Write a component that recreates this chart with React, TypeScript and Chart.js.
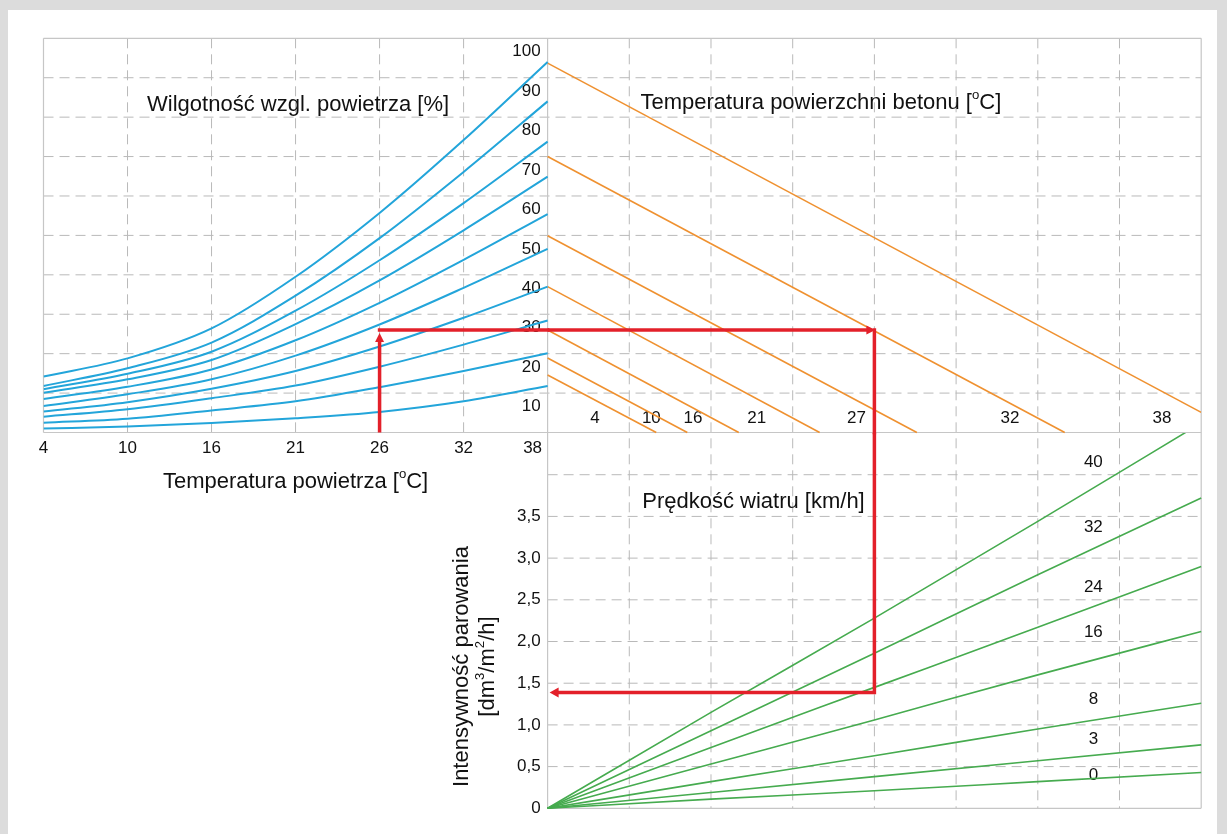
import React, { useEffect, useRef } from 'react';
import { Chart, registerables } from 'chart.js';

Chart.register(...registerables);

// ---------------- DATA ----------------
// Left panel: air temperature (x, equally spaced grid columns) vs. relative humidity curves
const airTempTicks = ['4', '10', '16', '21', '26', '32', '38'];
const humidityTicks = [100, 90, 80, 70, 60, 50, 40, 30, 20, 10];
// curve values read at each air-temperature column (vertical nomogram units, 0..100)
const rh100 = [14.2, 18.8, 26.4, 39.5, 55.7, 74.2, 94.0];
const rh90 = [11.8, 16.3, 22.8, 34.7, 49.3, 66.1, 84.0];
const rh80 = [11.0, 14.9, 20.5, 30.9, 43.7, 58.2, 73.8];
const rh70 = [10.1, 13.5, 18.4, 27.5, 38.6, 51.3, 64.9];
const rh60 = [8.5, 11.6, 16.0, 23.4, 32.9, 43.8, 55.4];
const rh50 = [6.7, 9.7, 13.5, 19.5, 27.4, 36.7, 46.6];
const rh40 = [5.3, 7.7, 11.1, 15.6, 21.8, 29.1, 37.0];
const rh30 = [4.0, 5.9, 8.7, 11.9, 16.7, 22.3, 28.4];
const rh20 = [2.5, 3.5, 5.6, 7.9, 11.5, 15.6, 20.1];
const rh10 = [1.0, 1.5, 2.4, 3.6, 5.2, 7.9, 11.8];
const humiditySeries = [rh100, rh90, rh80, rh70, rh60, rh50, rh40, rh30, rh20, rh10];

// Right-top panel: concrete surface temperature lines (start on divider, end on axis / right edge)
const concreteTempLabels = ['4', '10', '16', '21', '27', '32', '38'];
const concreteStartY = [14.6, 18.9, 26.0, 37.0, 49.9, 70.0, 93.7];
const concreteEndX = [1.33, 1.71, 2.34, 3.33, 4.52, 6.33, 8.0];
const concreteEndY = [0, 0, 0, 0, 0, 0, 5.1];

// Right-bottom panel: wind speed fan (evaporation rate vs column)
const windLabels = ['40', '32', '24', '16', '8', '3', '0'];
const windX = [0, 2, 4, 6, 8];
const wind40 = [0, 1.15, 2.28, 3.44, 4.62];
const wind32 = [0, 0.93, 1.86, 2.80, 3.72];
const wind24 = [0, 0.73, 1.45, 2.17, 2.90];
const wind16 = [0, 0.53, 1.06, 1.60, 2.12];
const wind8 = [0, 0.32, 0.63, 0.95, 1.26];
const wind3 = [0, 0.19, 0.38, 0.57, 0.76];
const wind0 = [0, 0.11, 0.21, 0.32, 0.43];
const windSeries = [wind40, wind32, wind24, wind16, wind8, wind3, wind0];

const evapTickValues = [0, 0.5, 1.0, 1.5, 2.0, 2.5, 3.0, 3.5];
const evapTickLabels = ['0', '0,5', '1,0', '1,5', '2,0', '2,5', '3,0', '3,5'];
const evapGrid = [0.5, 1.0, 1.5, 2.0, 2.5, 3.0, 3.5, 4.0];

// Example reading path (red arrows)
const exampleAirCol = 4; // 26 °C
const exampleLevel = 26; // humidity-curve level
const exampleConcreteCol = 4; // 27 °C line
const exampleEvap = 1.39; // dm3/m2/h

// ---------------- LAYOUT / STYLE ----------------
const W = 1227;
const H = 834;
const FONT = '"Liberation Sans", Arial, Helvetica, sans-serif';
const TEXT = '#111111';
const GRID = '#b9b9b9';
const FRAME = '#c6c6c6';
const BLUE = '#23a5da';
const ORANGE = '#ef9130';
const GREEN = '#46ab4f';
const RED = '#e3202a';

const concreteLabelX = [0.58, 1.27, 1.78, 2.56, 3.78, 5.66, 7.52];
const windLabelY = [4.15, 3.37, 2.65, 2.11, 1.31, 0.83, 0.40];

type Part = { t: string; sup?: boolean };

function richText(ctx: CanvasRenderingContext2D, parts: Part[], x: number, y: number, size: number, align: 'left' | 'center' | 'right') {
  const widths = parts.map((p) => {
    ctx.font = `${p.sup ? size * 0.6 : size}px ${FONT}`;
    return ctx.measureText(p.t).width;
  });
  const total = widths.reduce((a, b) => a + b, 0);
  let cx = align === 'center' ? x - total / 2 : align === 'right' ? x - total : x;
  ctx.textAlign = 'left';
  ctx.textBaseline = 'middle';
  parts.forEach((p, i) => {
    ctx.font = `${p.sup ? size * 0.6 : size}px ${FONT}`;
    ctx.fillText(p.t, cx, p.sup ? y - size * 0.33 : y);
    cx += widths[i];
  });
}

function seg(ctx: CanvasRenderingContext2D, x1: number, y1: number, x2: number, y2: number) {
  ctx.beginPath();
  ctx.moveTo(x1, y1);
  ctx.lineTo(x2, y2);
  ctx.stroke();
}

function arrowHead(ctx: CanvasRenderingContext2D, tx: number, ty: number, dir: 'up' | 'left' | 'right', len: number, half: number) {
  ctx.beginPath();
  if (dir === 'up') {
    ctx.moveTo(tx, ty);
    ctx.lineTo(tx - half, ty + len);
    ctx.lineTo(tx + half, ty + len);
  } else if (dir === 'right') {
    ctx.moveTo(tx, ty);
    ctx.lineTo(tx - len, ty - half);
    ctx.lineTo(tx - len, ty + half);
  } else {
    ctx.moveTo(tx, ty);
    ctx.lineTo(tx + len, ty - half);
    ctx.lineTo(tx + len, ty + half);
  }
  ctx.closePath();
  ctx.fill();
}

const nomogramPlugin = {
  id: 'nomogram',
  beforeDatasetsDraw(chart: any) {
    const ctx: CanvasRenderingContext2D = chart.ctx;
    const s = chart.scales;
    const XL = (v: number) => s.xl.getPixelForValue(v);
    const XR = (v: number) => s.xr.getPixelForValue(v);
    const YT = (v: number) => s.yt.getPixelForValue(v);
    const YB = (v: number) => s.yb.getPixelForValue(v);
    ctx.save();

    // dashed grid
    ctx.strokeStyle = GRID;
    ctx.lineWidth = 1;
    ctx.setLineDash([10, 6]);
    humidityTicks.slice(1).forEach((v) => seg(ctx, XL(0), YT(v), XR(8), YT(v)));
    for (let i = 1; i < airTempTicks.length - 1; i++) seg(ctx, XL(i), YT(100), XL(i), YT(0));
    for (let i = 1; i < 8; i++) seg(ctx, XR(i), YT(100), XR(i), YB(0));
    evapGrid.forEach((v) => seg(ctx, XR(0), YB(v), XR(8), YB(v)));

    // solid frame
    ctx.setLineDash([]);
    ctx.strokeStyle = FRAME;
    ctx.lineWidth = 1.2;
    seg(ctx, XL(0), YT(100), XR(8), YT(100));
    seg(ctx, XL(0), YT(100), XL(0), YT(0));
    seg(ctx, XR(8), YT(100), XR(8), YB(0));
    seg(ctx, XR(0), YT(100), XR(0), YB(0));
    seg(ctx, XL(0), YT(0), XR(8), YT(0));
    seg(ctx, XR(0), YB(0), XR(8), YB(0));

    ctx.fillStyle = TEXT;
    const D = XR(0);
    // humidity tick labels
    ctx.font = `17px ${FONT}`;
    ctx.textAlign = 'right';
    ctx.textBaseline = 'middle';
    humidityTicks.forEach((v) => ctx.fillText(String(v), D - 7, YT(v) + 13.5));
    // evaporation tick labels
    evapTickValues.forEach((v, i) => ctx.fillText(evapTickLabels[i], D - 7, YB(v)));
    // air temperature ticks
    ctx.textAlign = 'center';
    airTempTicks.forEach((t, i) => {
      const x = i === airTempTicks.length - 1 ? XL(i) - 15 : XL(i);
      ctx.fillText(t, x, YT(0) + 16);
    });
    // concrete temperature labels
    concreteTempLabels.forEach((t, i) => ctx.fillText(t, XR(concreteLabelX[i]), YT(3.6)));
    // wind labels
    windLabels.forEach((t, i) => ctx.fillText(t, XR(6.68), YB(windLabelY[i])));

    // titles
    richText(ctx, [{ t: 'Wilgotność wzgl. powietrza [%]' }], XL(3.03), YT(83.1), 22, 'center');
    richText(ctx, [{ t: 'Temperatura powierzchni betonu [' }, { t: 'o', sup: true }, { t: 'C]' }], XR(3.345), YT(83.6), 22, 'center');
    richText(ctx, [{ t: 'Temperatura powietrza [' }, { t: 'o', sup: true }, { t: 'C]' }], XL(3.0), YT(0) + 49, 22, 'center');
    richText(ctx, [{ t: 'Prędkość wiatru [km/h]' }], XR(2.52), YB(3.676), 22, 'center');

    // rotated y title
    ctx.save();
    ctx.translate(D - 86, YB(1.7));
    ctx.rotate(-Math.PI / 2);
    richText(ctx, [{ t: 'Intensywność parowania' }], 0, 0, 22, 'center');
    ctx.restore();
    ctx.save();
    ctx.translate(D - 60, YB(1.7));
    ctx.rotate(-Math.PI / 2);
    richText(ctx, [{ t: '[dm' }, { t: '3', sup: true }, { t: '/m' }, { t: '2', sup: true }, { t: '/h]' }], 0, 0, 22, 'center');
    ctx.restore();

    ctx.restore();
  },
  afterDatasetsDraw(chart: any) {
    const ctx: CanvasRenderingContext2D = chart.ctx;
    const s = chart.scales;
    ctx.save();
    ctx.fillStyle = RED;
    arrowHead(ctx, s.xl.getPixelForValue(exampleAirCol), s.yt.getPixelForValue(exampleLevel) + 3, 'up', 9, 4.5);
    arrowHead(ctx, s.xr.getPixelForValue(exampleConcreteCol) + 1, s.yt.getPixelForValue(exampleLevel), 'right', 9, 4.5);
    arrowHead(ctx, s.xr.getPixelForValue(0) + 2, s.yb.getPixelForValue(exampleEvap), 'left', 9, 5);
    ctx.restore();
  },
};

export default function App() {
  const ref = useRef<HTMLCanvasElement | null>(null);

  useEffect(() => {
    if (!ref.current) return;
    const datasets: any[] = [];
    const base = { showLine: true, pointRadius: 0, fill: false };

    // red example path (drawn on top)
    datasets.push({
      ...base, order: 0, xAxisID: 'xl', yAxisID: 'yt', borderColor: RED, borderWidth: 3.5,
      data: [{ x: exampleAirCol, y: 0 }, { x: exampleAirCol, y: exampleLevel - 3 }],
    });
    datasets.push({
      ...base, order: 0, xAxisID: 'xl', yAxisID: 'yt', borderColor: RED, borderWidth: 3.5, borderCapStyle: 'square',
      data: [{ x: exampleAirCol, y: exampleLevel }, { x: airTempTicks.length - 1, y: exampleLevel }],
    });
    datasets.push({
      ...base, order: 0, xAxisID: 'xr', yAxisID: 'yt', borderColor: RED, borderWidth: 3.5, borderJoinStyle: 'miter',
      data: [{ x: 0, y: exampleLevel }, { x: exampleConcreteCol - 0.08, y: exampleLevel }],
    });
    datasets.push({
      ...base, order: 0, xAxisID: 'xr', yAxisID: 'yt', borderColor: RED, borderWidth: 3.5, borderCapStyle: 'square',
      data: [{ x: exampleConcreteCol, y: exampleLevel }, { x: exampleConcreteCol, y: 0 }],
    });
    datasets.push({
      ...base, order: 0, xAxisID: 'xr', yAxisID: 'yb', borderColor: RED, borderWidth: 3.5, borderJoinStyle: 'miter',
      data: [{ x: exampleConcreteCol, y: 4.5 }, { x: exampleConcreteCol, y: exampleEvap }, { x: 0.12, y: exampleEvap }],
    });

    humiditySeries.forEach((arr) => {
      datasets.push({
        ...base, order: 1, xAxisID: 'xl', yAxisID: 'yt', borderColor: BLUE, borderWidth: 2,
        cubicInterpolationMode: 'monotone',
        data: arr.map((v, i) => ({ x: i, y: v })),
      });
    });

    concreteTempLabels.forEach((_, i) => {
      datasets.push({
        ...base, order: 1, xAxisID: 'xr', yAxisID: 'yt', borderColor: ORANGE, borderWidth: 1.6,
        data: [{ x: 0, y: concreteStartY[i] }, { x: concreteEndX[i], y: concreteEndY[i] }],
      });
    });

    windSeries.forEach((arr) => {
      datasets.push({
        ...base, order: 1, xAxisID: 'xr', yAxisID: 'yb', borderColor: GREEN, borderWidth: 1.6,
        cubicInterpolationMode: 'monotone',
        clip: { left: 2, right: 2, bottom: 2, top: -394.7 },
        data: arr.map((v, i) => ({ x: windX[i], y: v })),
      });
    });

    const chart = new Chart(ref.current, {
      type: 'scatter',
      data: { datasets },
      options: {
        animation: false,
        responsive: false,
        maintainAspectRatio: false,
        events: [],
        layout: { padding: { left: 43.5, top: 38.3, right: 25.8, bottom: 25.7 } },
        plugins: { legend: { display: false }, tooltip: { enabled: false } },
        scales: {
          xl: { type: 'linear', axis: 'x', display: false, min: 0, max: 13.779 },
          xr: { type: 'linear', axis: 'x', display: false, min: -6.17, max: 8 },
          yt: { type: 'linear', axis: 'y', display: false, min: -95.33, max: 100 },
          yb: { type: 'linear', axis: 'y', display: false, min: 0, max: 9.233 },
        },
      } as any,
      plugins: [nomogramPlugin],
    });
    return () => chart.destroy();
  }, []);

  return (
    <div style={{ position: 'fixed', left: 0, top: 0, width: W, height: H, background: '#dcdcdc', overflow: 'hidden' }}>
      <div style={{ position: 'absolute', left: 8, top: 10, width: 1209, height: 824, background: '#ffffff' }} />
      <canvas ref={ref} width={W} height={H} style={{ position: 'absolute', left: 0, top: 0, width: W, height: H }} />
    </div>
  );
}
